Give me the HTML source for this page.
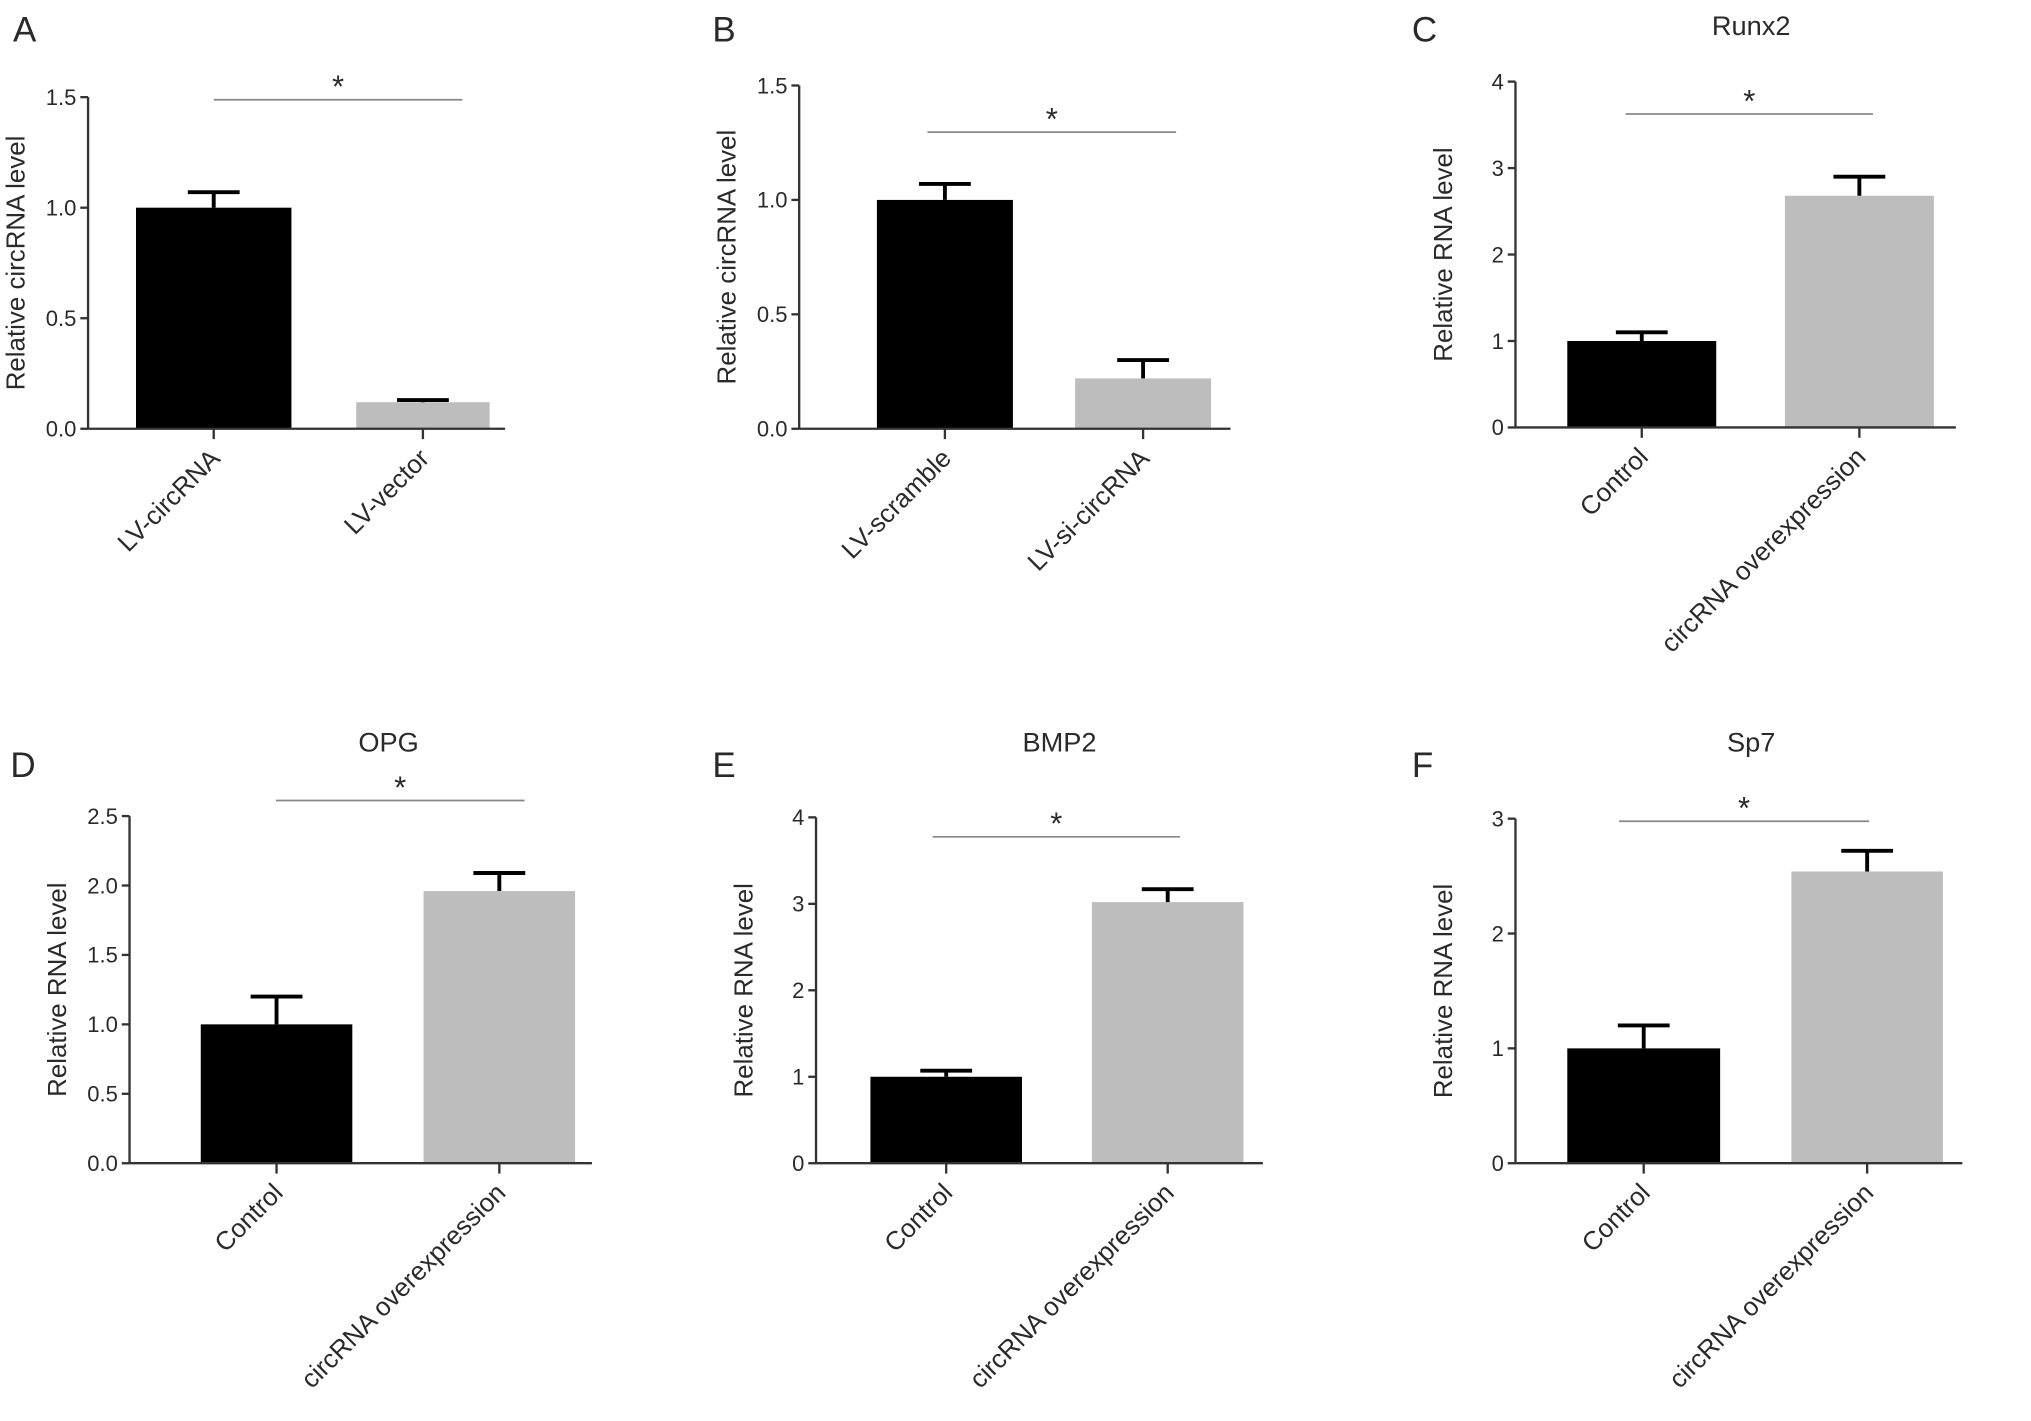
<!DOCTYPE html>
<html><head><meta charset="utf-8"><style>
html,body{margin:0;padding:0;background:#fff}
svg{display:block}
text{font-family:"Liberation Sans",sans-serif;fill:#2a2a2a}
</style></head><body>
<svg id="fig" width="2031" height="1421" viewBox="0 0 1568 1097" preserveAspectRatio="none" xmlns="http://www.w3.org/2000/svg"></svg>
<script>
// data
const panelLetters = ["A","B","C","D","E","F"];
const panelTitles = ["","","Runx2","OPG","BMP2","Sp7"];
const yTitles = ["Relative circRNA level","Relative circRNA level","Relative RNA level","Relative RNA level","Relative RNA level","Relative RNA level"];
const categoriesA = ["LV-circRNA","LV-vector"];
const categoriesB = ["LV-scramble","LV-si-circRNA"];
const categoriesCF = ["Control","circRNA overexpression"];
const valuesA = [1.0, 0.12], errorsA = [0.07, 0.01];
const valuesB = [1.0, 0.22], errorsB = [0.07, 0.08];
const valuesC = [1.0, 2.68], errorsC = [0.1, 0.22];
const valuesD = [1.0, 1.96], errorsD = [0.2, 0.13];
const valuesE = [1.0, 3.02], errorsE = [0.07, 0.15];
const valuesF = [1.0, 2.54], errorsF = [0.2, 0.18];
const ticksA = ["0.0","0.5","1.0","1.5"];
const ticksB = ["0.0","0.5","1.0","1.5"];
const ticksC = ["0","1","2","3","4"];
const ticksD = ["0.0","0.5","1.0","1.5","2.0","2.5"];
const ticksE = ["0","1","2","3","4"];
const ticksF = ["0","1","2","3"];

const svg=document.getElementById('fig');
const NS="http://www.w3.org/2000/svg";
function el(tag,attrs,parent,txt){const e=document.createElementNS(NS,tag);for(const k in attrs)e.setAttribute(k,attrs[k]);if(txt!==undefined)e.textContent=txt;(parent||svg).appendChild(e);return e;}

const layout=[
 {ax:68,y0:331,yTop:75,bars:[[105,225],[275,378]],xEnd:390,sig:[165,357,77],lx:10,ly:32,tx:0,ty:0,cats:categoriesA,vals:valuesA,errs:errorsA,ticks:ticksA},
 {ax:617,y0:331,yTop:66,bars:[[677,782],[830,935]],xEnd:950,sig:[716,908,102],lx:550,ly:32,tx:0,ty:0,cats:categoriesB,vals:valuesB,errs:errorsB,ticks:ticksB},
 {ax:1170,y0:330,yTop:63,bars:[[1210,1325],[1378,1493]],xEnd:1510,sig:[1255,1446,88],lx:1090,ly:32,tx:1352,ty:27,cats:categoriesCF,vals:valuesC,errs:errorsC,ticks:ticksC},
 {ax:100,y0:898,yTop:630,bars:[[155,272],[327,444]],xEnd:457,sig:[213,405,618],lx:8,ly:600,tx:300,ty:580,cats:categoriesCF,vals:valuesD,errs:errorsD,ticks:ticksD},
 {ax:630,y0:898,yTop:631,bars:[[672,789],[843,960]],xEnd:975,sig:[720,911,646],lx:550,ly:600,tx:818,ty:580,cats:categoriesCF,vals:valuesE,errs:errorsE,ticks:ticksE},
 {ax:1170,y0:898,yTop:632,bars:[[1210,1328],[1383,1500]],xEnd:1515,sig:[1250,1443,634],lx:1090,ly:600,tx:1352,ty:580,cats:categoriesCF,vals:valuesF,errs:errorsF,ticks:ticksF}
];

layout.forEach((p,i)=>{
  const g=el('g',{});
  
  
  const maxV=parseFloat(p.ticks[p.ticks.length-1]);
  const y=v=>p.y0-(v/maxV)*(p.y0-p.yTop);
  const L=el('text',{x:p.lx,y:p.ly,'font-size':27},g,panelLetters[i]);
  
  
  if(panelTitles[i]){const t=el('text',{x:p.tx,y:p.ty,'font-size':21,'text-anchor':'middle'},g,panelTitles[i]);
    }
  p.vals.forEach((v,j)=>{
    const [x1,x2]=p.bars[j];const cx=(x1+x2)/2;
    const r=el('rect',{x:x1,y:y(v),width:x2-x1,height:p.y0-y(v),fill:j===0?'#000':'#bdbdbd'},g);
    
    
    const ey=y(v+p.errs[j]);
    const eb=el('path',{d:`M${cx},${y(v)} V${ey} M${cx-20},${ey} H${cx+20}`,stroke:'#000','stroke-width':3,fill:'none'},g);
    
    
    el('line',{x1:cx,x2:cx,y1:p.y0,y2:p.y0+8,stroke:'#333','stroke-width':1.8},g);
    const lx=cx+6, ly=p.y0+24;
    const lab=el('text',{x:lx,y:ly,'font-size':20,'text-anchor':'end',transform:`rotate(-45 ${lx} ${ly})`},g,p.cats[j]);
    
    
  });
  el('line',{x1:p.ax,x2:p.ax,y1:p.yTop,y2:p.y0,stroke:'#333','stroke-width':1.8},g);
  el('line',{x1:p.ax,x2:p.xEnd,y1:p.y0,y2:p.y0,stroke:'#333','stroke-width':1.8},g);
  p.ticks.forEach(t=>{
    const ty=y(parseFloat(t));
    el('line',{x1:p.ax-6,x2:p.ax,y1:ty,y2:ty,stroke:'#333','stroke-width':1.8},g);
    const tl=el('text',{x:p.ax-9,y:ty+6,'font-size':17,'text-anchor':'end'},g,t);
    
    
  });
  const mid=(p.yTop+p.y0)/2, yx=p.ax-49;
  const yt=el('text',{x:yx,y:mid,'font-size':20,'text-anchor':'middle',transform:`rotate(-90 ${yx} ${mid})`},g,yTitles[i]);
  
  
  const [s1,s2,sy]=p.sig;
  el('line',{x1:s1,x2:s2,y1:sy,y2:sy,stroke:'#888','stroke-width':1.3},g);
  const st=el('text',{x:(s1+s2)/2,y:sy-2,'font-size':24,'text-anchor':'middle'},g,'*');
  
  
});
</script>
</body></html>
